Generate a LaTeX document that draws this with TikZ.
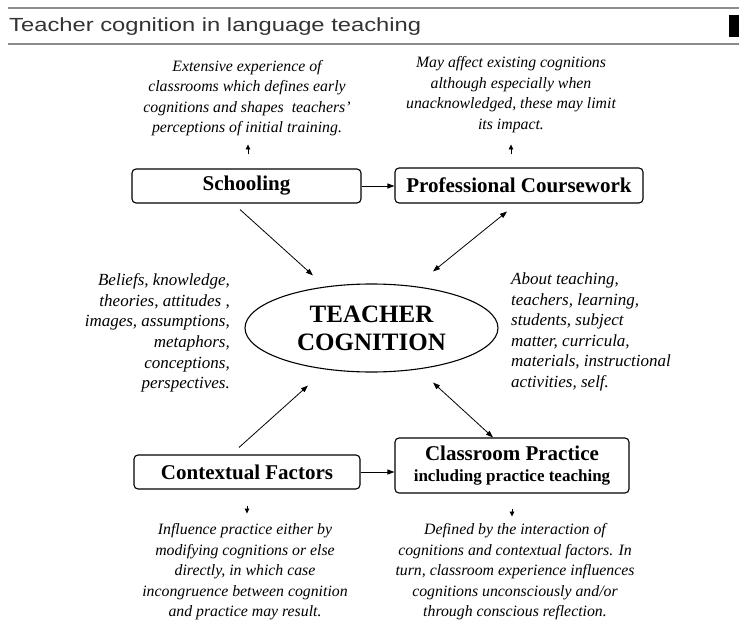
\documentclass[tikz,border=0pt]{standalone}
\usepackage{fontspec}
\setmainfont{Liberation Serif}
\newfontfamily\hdrfont[FakeStretch=1.25]{Liberation Sans}
\usetikzlibrary{arrows.meta,shapes.geometric,calc}
\tikzset{
  box/.style={draw, line width=1.1pt, rounded corners=4pt, inner sep=0pt, font=\bfseries\fontsize{21}{24}\selectfont},
  note/.style={align=center, inner sep=0pt, font=\itshape\fontsize{15.8}{20.5}\selectfont},
  side/.style={inner sep=0pt, font=\itshape\fontsize{17}{20.6}\selectfont},
  arr/.style={line width=0.8pt, -{Triangle[length=7pt,width=5pt]}},
  darr/.style={line width=0.8pt, {Triangle[length=7pt,width=5pt]}-{Triangle[length=7pt,width=5pt]}},
  tick/.style={line width=0.8pt, -{Triangle[length=5pt,width=4.5pt]}},
  rule/.style={draw=black!45, line width=2pt}
}
\begin{document}
\begin{tikzpicture}[x=1pt,y=-1pt]
\useasboundingbox (0,0) rectangle (739,623);
\fill[white] (0,0) rectangle (739,623);
% header
\draw[rule] (8,8.5) -- (739,8.5);
\draw[rule] (8,44) -- (739,44);
\fill[black] (729,15) rectangle (739,37);
\node[anchor=base west, inner sep=0pt, text=black!80, font=\hdrfont\fontsize{19}{22}\selectfont] (hdr) at (9,32) {Teacher cognition in language teaching};

% boxes
\node[box, minimum width=229pt, minimum height=34pt] (school) at (246.5,186) {Schooling};
\node[box, minimum width=248pt, minimum height=35pt] (prof) at (519,185.5) {Professional Coursework};
\node[draw, ellipse, line width=1.1pt, minimum width=253pt, minimum height=88pt, inner sep=0pt, align=center, font=\bfseries\fontsize{25}{28}\selectfont] (tc) at (371.5,328) {TEACHER\\COGNITION};
\node[box, minimum width=226pt, minimum height=34pt] (ctx) at (247,472) {Contextual Factors};
\node[box, minimum width=234pt, minimum height=55pt, align=center] (cls) at (512,465.5) {Classroom Practice\\[-3pt]{\fontsize{17}{20}\selectfont including practice teaching}};

% notes
\node[note] (n1) at (247,98) {Extensive experience of\\classrooms which defines early\\cognitions and shapes\ \ teachers'\\perceptions of initial training.};
\node[note] (n2) at (511,94.5) {May affect existing cognitions\\although especially when\\unacknowledged, these may limit\\its impact.};
\node[side, align=right, anchor=east] (n3) at (230,333) {Beliefs, knowledge,\\theories, attitudes ,\\images, assumptions,\\metaphors,\\conceptions,\\perspectives.};
\node[side, align=left, anchor=west] (n4) at (511,332) {About teaching,\\teachers, learning,\\students, subject\\matter, curricula,\\materials, instructional\\activities, self.};
\node[note] (n5) at (245,572) {Influence practice either by\\modifying cognitions or else\\directly, in which case\\incongruence between cognition\\and practice may result.};
\node[note] (n6) at (515,572) {Defined by the interaction of\\cognitions and contextual factors. In\\turn, classroom experience influences\\cognitions unconsciously and/or\\through conscious reflection.};

% connectors
\draw[arr] (school.east) -- (school.east -| prof.west);
\draw[arr] (ctx.east) -- (ctx.east -| cls.west);
\draw[arr] ([xshift=-6.5pt,yshift=-6pt]school.south) -- ([xshift=-58.5pt,yshift=8pt]tc.north);
\draw[darr] ([xshift=61.5pt,yshift=12pt]tc.north) -- ([xshift=-12pt,yshift=-8pt]prof.south);
\draw[arr] ([xshift=-8pt,yshift=7pt]ctx.north) -- ([xshift=-63.5pt,yshift=-13pt]tc.south);
\draw[darr] ([xshift=61.5pt,yshift=-10pt]tc.south) -- ([xshift=-19pt]cls.north);

% small ticks
\draw[tick] ([xshift=1.5pt,yshift=14pt]school.north) -- ([xshift=1.5pt,yshift=24pt]school.north);
\draw[tick] ([xshift=-8pt,yshift=13pt]prof.north) -- ([xshift=-8pt,yshift=23pt]prof.north);
\draw[tick] ([yshift=-16pt]ctx.south) -- ([yshift=-24pt]ctx.south);
\draw[tick] ([yshift=-15pt]cls.south) -- ([yshift=-23pt]cls.south);
\end{tikzpicture}
\end{document}
